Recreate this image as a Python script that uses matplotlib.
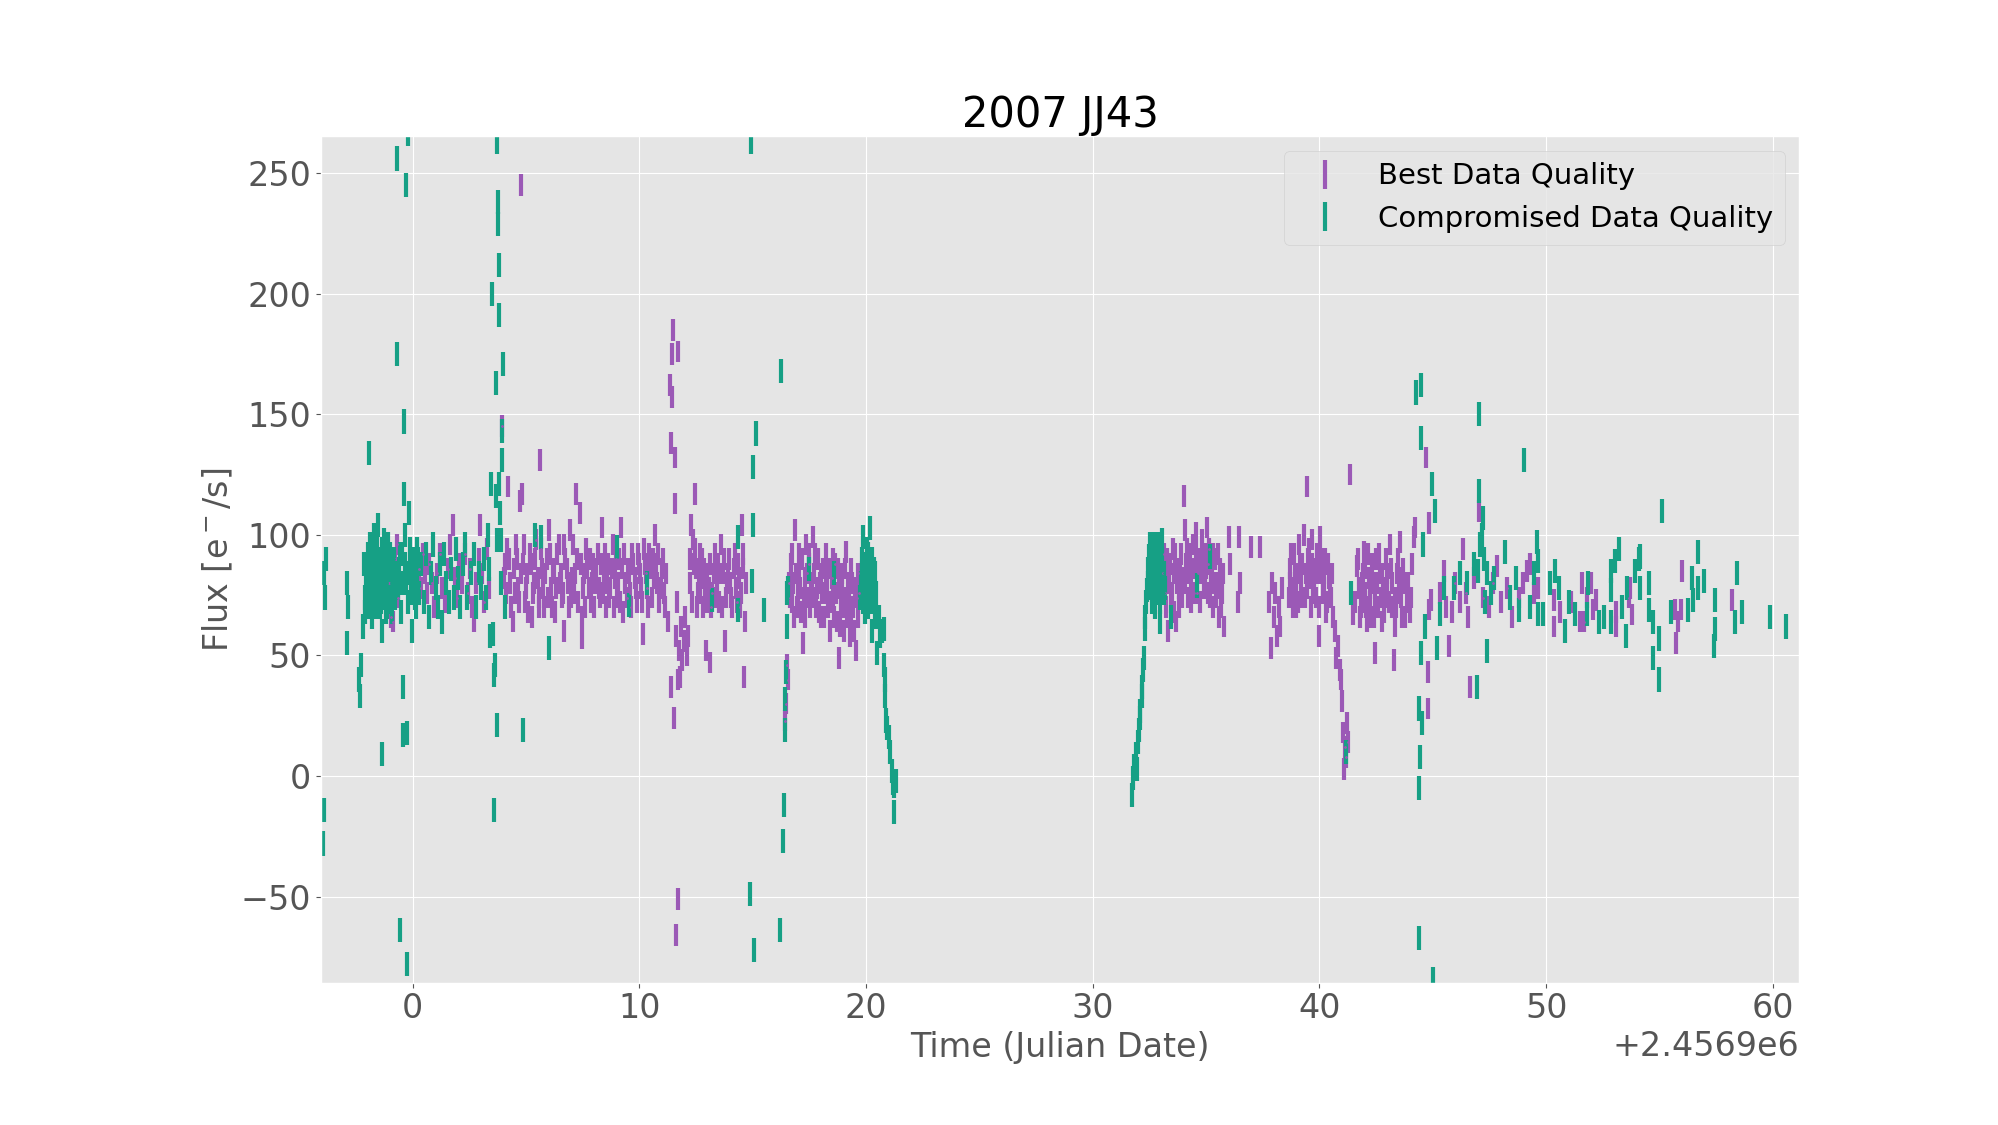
import numpy as np
import matplotlib
matplotlib.use("Agg")
import matplotlib.pyplot as plt

# ---------------- data (time offset in days, flux in e-/s) ----------------
jd_base = 2456900.0

best_seg_a = [(-1.05, 80), (-0.95, 66), (-0.88, 64), (-0.8, 90), (-0.72, 96), (-0.66, 74),
              (0.25, 86), (0.35, 78), (0.45, 92), (0.55, 84), (0.62, 76), (0.72, 88), (0.85, 80),
              (0.95, 70), (1.05, 84), (1.2, 92), (1.3, 78), (1.42, 72), (1.55, 86), (1.65, 96),
              (1.77, 104), (1.85, 82), (1.95, 74), (2.05, 88), (2.15, 80), (2.3, 92), (2.42, 76),
              (2.5, 86), (2.62, 70), (2.72, 64), (2.8, 80), (2.9, 90), (2.97, 104), (3.05, 84),
              (3.15, 72), (3.25, 94), (3.35, 78)]

best_seg_b = [(3.95, 145), (4.0, 82), (4.1, 76), (4.2, 120), (4.25, 90), (4.35, 70), (4.45, 86),
              (4.55, 96), (4.62, 78), (4.72, 114), (4.75, 245), (4.8, 117), (4.85, 88), (4.95, 72),
              (5.05, 84), (5.15, 92), (5.25, 66), (5.35, 80), (5.45, 98), (5.55, 74), (5.62, 131),
              (5.7, 86), (5.8, 70), (5.9, 90), (6.0, 102), (6.08, 78), (6.18, 84), (6.28, 68),
              (6.38, 92), (6.48, 80), (6.58, 74), (6.69, 60), (6.68, 96), (6.78, 86), (6.88, 70),
              (6.93, 102), (7.0, 82), (7.1, 76), (7.19, 117), (7.25, 90), (7.37, 109), (7.46, 57),
              (7.45, 66), (7.55, 84), (7.65, 94), (7.75, 78), (7.85, 72), (7.95, 88), (8.05, 80),
              (8.15, 92), (8.25, 74), (8.34, 103), (8.42, 84), (8.52, 70), (8.62, 88), (8.72, 78),
              (8.82, 96), (8.92, 82), (9.02, 74), (9.1, 90), (9.18, 103), (9.28, 68), (9.38, 80),
              (9.48, 86), (9.58, 76), (9.68, 92), (9.78, 82), (9.88, 72), (9.98, 88), (10.08, 78),
              (10.15, 59), (10.18, 94), (10.28, 84), (10.38, 70), (10.48, 86), (10.58, 90),
              (10.68, 100), (10.78, 80), (10.88, 72), (10.98, 86), (11.08, 76)]

best_seg_b2 = [(4.05, 88), (4.15, 94), (4.3, 80), (4.4, 64), (4.5, 76), (4.58, 90), (4.68, 72),
               (4.78, 84), (4.9, 96), (5.0, 78), (5.1, 68), (5.2, 88), (5.3, 76), (5.4, 90),
               (5.5, 82), (5.58, 70), (5.66, 94), (5.75, 78), (5.85, 84), (5.95, 74), (6.04, 92),
               (6.13, 70), (6.23, 86), (6.33, 78), (6.43, 96), (6.53, 84), (6.63, 76), (6.73, 90),
               (6.83, 80), (6.97, 74), (7.05, 96), (7.15, 84), (7.3, 72), (7.4, 88), (7.5, 78),
               (7.6, 70), (7.7, 86), (7.8, 90), (7.9, 80), (8.0, 70), (8.1, 86), (8.2, 78),
               (8.3, 88), (8.38, 76), (8.47, 92), (8.57, 80), (8.67, 74), (8.77, 86), (8.87, 70),
               (8.97, 90), (9.06, 80), (9.14, 72), (9.23, 86), (9.33, 92), (9.43, 74), (9.53, 84),
               (9.63, 70), (9.73, 88), (9.83, 78), (9.93, 92), (10.03, 84), (10.13, 72),
               (10.23, 88), (10.33, 78), (10.43, 92), (10.53, 74), (10.63, 82), (10.73, 88),
               (10.83, 92), (10.93, 78), (11.03, 90), (11.13, 70), (11.18, 84)]

best_seg_c = [(11.25, 64), (11.34, 162), (11.38, 138), (11.38, 37), (11.43, 175), (11.43, 157),
              (11.47, 185), (11.51, 24), (11.56, 132), (11.56, 113), (11.6, -66), (11.69, 176),
              (11.69, -51), (11.72, 40), (11.78, 41), (11.62, 58), (11.65, 72), (11.75, 52),
              (11.82, 62), (11.88, 48), (11.95, 56), (12.02, 66), (12.08, 50), (12.15, 58),
              (12.22, 90), (12.28, 104), (12.35, 98), (12.44, 117), (12.5, 86), (12.58, 76),
              (12.65, 92), (12.72, 82), (12.8, 70), (12.88, 78), (12.93, 52), (13.0, 84),
              (13.1, 47), (13.12, 88), (13.22, 76), (13.32, 92), (13.42, 80), (13.52, 72),
              (13.6, 96), (13.68, 84), (13.76, 56), (13.85, 80), (13.95, 90), (14.05, 74),
              (14.15, 86), (14.25, 78), (14.35, 88), (14.45, 70), (14.52, 104), (14.58, 92),
              (14.6, 41), (14.65, 64), (14.72, 80)]

best_seg_c2 = [(12.25, 80), (12.32, 72), (12.4, 88), (12.47, 94), (12.54, 70), (12.62, 84),
               (12.68, 76), (12.76, 90), (12.84, 86), (12.96, 72), (13.05, 78), (13.16, 70),
               (13.27, 84), (13.37, 74), (13.47, 88), (13.56, 84), (13.64, 70), (13.72, 90),
               (13.8, 74), (13.9, 84), (14.0, 80), (14.1, 70), (14.2, 92), (14.3, 72),
               (14.4, 82), (14.48, 76), (14.55, 86)]

best_seg_d = [(16.43, 23), (16.46, 30), (16.5, 46), (16.56, 40), (16.6, 80), (16.68, 88),
              (16.75, 72), (16.82, 66), (16.85, 102), (16.9, 84), (16.98, 76), (17.05, 92),
              (17.12, 68), (17.2, 55), (17.28, 82), (17.35, 96), (17.42, 74), (17.5, 88),
              (17.58, 78), (17.65, 99), (17.72, 84), (17.8, 70), (17.88, 90), (17.95, 80),
              (18.02, 66), (18.1, 86), (18.18, 76), (18.25, 92), (18.32, 70), (18.4, 60),
              (18.48, 82), (18.55, 74), (18.62, 88), (18.7, 64), (18.78, 78), (18.81, 49),
              (18.88, 70), (18.95, 84), (19.02, 60), (19.1, 74), (19.13, 93), (19.2, 80),
              (19.28, 58), (19.35, 86), (19.42, 70), (19.5, 78), (19.55, 52), (19.62, 66),
              (19.7, 76)]

best_seg_d2 = [(16.64, 74), (16.72, 92), (16.79, 80), (16.94, 70), (17.02, 84), (17.08, 78),
               (17.16, 90), (17.24, 74), (17.32, 66), (17.38, 84), (17.46, 92), (17.54, 70),
               (17.62, 80), (17.69, 74), (17.76, 92), (17.84, 78), (17.92, 68), (17.99, 84),
               (18.06, 76), (18.14, 66), (18.22, 84), (18.29, 78), (18.36, 86), (18.44, 72),
               (18.52, 90), (18.59, 66), (18.66, 76), (18.74, 86), (18.84, 62), (18.92, 78),
               (18.99, 70), (19.06, 86), (19.16, 66), (19.24, 72), (19.32, 64), (19.39, 80),
               (19.46, 60), (19.58, 74), (19.66, 84)]

best_seg_e = [(33.1, 84), (33.18, 76), (33.26, 90), (33.31, 60), (33.38, 80), (33.45, 72),
              (33.52, 94), (33.6, 84), (33.68, 64), (33.75, 86), (33.82, 78), (33.9, 92),
              (33.96, 82), (34.01, 116), (34.05, 102), (34.12, 88), (34.2, 74), (34.28, 92),
              (34.35, 80), (34.42, 96), (34.5, 86), (34.53, 101), (34.6, 76), (34.68, 90),
              (34.75, 84), (34.82, 98), (34.9, 78), (34.97, 92), (35.04, 103), (35.1, 88),
              (35.18, 74), (35.25, 84), (35.32, 70), (35.4, 90), (35.48, 80), (35.55, 66),
              (35.62, 86), (35.7, 76), (35.78, 62), (36.0, 99), (36.05, 88), (36.4, 72),
              (36.44, 99), (36.48, 80), (37.0, 95), (37.37, 95)]

best_seg_e2 = [(33.14, 92), (33.22, 70), (33.3, 86), (33.42, 88), (33.49, 76), (33.56, 68),
               (33.64, 92), (33.72, 80), (33.79, 70), (33.86, 86), (33.93, 74), (34.08, 80),
               (34.16, 94), (34.24, 84), (34.32, 72), (34.39, 86), (34.46, 76), (34.57, 92),
               (34.64, 84), (34.72, 72), (34.79, 90), (34.86, 86), (34.93, 80), (35.0, 86),
               (35.07, 76), (35.14, 94), (35.22, 80), (35.29, 92), (35.36, 80), (35.44, 74),
               (35.51, 92), (35.58, 78), (35.66, 70), (35.74, 84)]

best_seg_f = [(37.78, 72), (37.84, 53), (37.9, 80), (37.98, 66), (38.05, 76), (38.12, 58),
              (38.2, 70), (38.28, 62), (38.35, 78), (38.65, 74), (38.72, 86), (38.8, 78),
              (38.88, 92), (38.95, 70), (39.02, 84), (39.1, 96), (39.18, 80), (39.25, 88),
              (39.3, 100), (39.35, 74), (39.44, 120), (39.5, 90), (39.58, 82), (39.65, 98),
              (39.72, 76), (39.8, 86), (39.88, 92), (39.97, 58), (40.04, 99), (40.1, 84),
              (40.18, 78), (40.25, 90), (40.32, 72), (40.4, 82), (40.5, 74), (40.6, 66),
              (40.68, 60), (40.75, 49), (40.82, 54), (40.9, 44), (40.96, 40), (41.0, 31),
              (41.05, 18), (41.07, 3), (41.12, 12), (41.18, 8), (41.22, 22), (41.27, 14),
              (41.35, 125), (41.46, 67), (41.55, 72), (41.66, 87)]

best_seg_f2 = [(38.68, 80), (38.76, 92), (38.84, 70), (38.92, 84), (38.98, 78), (39.06, 72),
               (39.14, 88), (39.21, 74), (39.39, 84), (39.47, 78), (39.54, 94), (39.62, 70),
               (39.69, 88), (39.76, 80), (39.84, 74), (39.92, 84), (40.0, 70), (40.07, 90),
               (40.14, 76), (40.21, 84), (40.28, 68), (40.36, 88), (40.45, 78), (40.55, 84)]

best_seg_g = [(41.75, 78), (41.82, 70), (41.9, 84), (41.96, 93), (42.02, 76), (42.1, 64),
              (42.18, 82), (42.25, 72), (42.32, 88), (42.4, 66), (42.47, 51), (42.55, 80),
              (42.62, 92), (42.7, 74), (42.78, 84), (42.85, 68), (42.92, 90), (43.0, 78),
              (43.1, 96), (43.18, 70), (43.28, 48), (43.35, 62), (43.42, 84), (43.5, 76),
              (43.57, 97), (43.65, 66), (43.72, 80), (43.85, 72), (44.0, 68), (44.1, 88),
              (44.16, 99), (44.2, 103), (44.69, 132), (44.78, 43), (44.8, 28), (44.84, 105),
              (44.85, 69), (44.9, 73)]

best_seg_g2 = [(41.72, 90), (41.79, 66), (41.86, 80), (41.93, 72), (41.99, 86), (42.06, 70),
               (42.14, 92), (42.21, 78), (42.29, 66), (42.36, 80), (42.44, 74), (42.51, 90),
               (42.58, 70), (42.66, 84), (42.74, 64), (42.81, 78), (42.89, 74), (42.96, 84),
               (43.05, 72), (43.14, 86), (43.22, 80), (43.31, 74), (43.39, 70), (43.46, 90),
               (43.54, 82), (43.61, 74), (43.68, 86), (43.78, 66), (43.92, 80), (44.05, 74)]

best_seg_h = [(45.3, 76), (45.49, 85), (45.6, 70), (45.7, 54), (45.85, 68), (46.0, 80),
              (46.2, 72), (46.34, 94), (46.45, 76), (46.55, 66), (46.66, 37), (46.8, 82),
              (47.04, 110), (47.2, 74), (47.5, 70), (47.65, 80), (47.84, 87), (48.0, 72),
              (48.28, 78), (48.5, 66), (48.8, 74), (49.0, 80), (49.16, 85), (49.3, 88),
              (49.45, 76), (49.65, 78), (50.34, 73), (50.36, 62), (50.6, 68), (51.1, 72),
              (51.5, 64)]

best_seg_i = [(51.59, 80), (51.65, 64), (51.8, 74), (51.96, 80), (52.05, 69), (52.18, 73),
              (53.06, 62), (53.1, 68), (53.65, 74), (53.72, 78), (53.78, 67), (55.7, 69),
              (55.72, 55), (55.8, 64), (55.93, 69), (56.0, 85), (58.21, 73)]

comp_seg_a = [(-3.95, -28), (-3.93, -14), (-3.9, 84), (-3.86, 74), (-3.82, 90), (-2.92, 80),
              (-2.88, 70), (-2.9, 55), (-2.36, 40), (-2.33, 33), (-2.3, 46)]

comp_seg_b = [(-2.18, 62), (-2.12, 74), (-2.06, 84), (-2.0, 92), (-1.95, 70), (-1.92, 134),
              (-1.88, 96), (-1.84, 80), (-1.8, 66), (-1.76, 88), (-1.72, 100), (-1.68, 76),
              (-1.64, 92), (-1.6, 70), (-1.56, 84), (-1.52, 104), (-1.48, 78), (-1.44, 90),
              (-1.4, 72), (-1.36, 60), (-1.35, 9), (-1.32, 86), (-1.28, 98), (-1.24, 76),
              (-1.2, 68), (-1.16, 92), (-1.12, 80), (-1.08, 96), (-1.02, 84), (-0.98, 72),
              (-0.92, 88), (-0.86, 78), (-0.8, 74), (-0.75, 82), (-0.7, 256), (-0.7, 175),
              (-0.62, 86), (-0.55, -64), (-0.52, 68), (-0.47, 92), (-0.44, 37), (-0.42, 17),
              (-0.39, 147), (-0.37, 117), (-0.35, 100), (-0.3, 245), (-0.28, 80), (-0.26, 18),
              (-0.26, -78), (-0.22, 266), (-0.2, 72), (-0.15, 109), (-0.12, 94), (-0.08, 84),
              (-0.04, 60), (0.0, 76), (0.05, 90), (0.1, 82), (0.15, 70), (0.2, 94), (0.28, 76)]

comp_seg_b2 = [(-2.15, 88), (-2.09, 68), (-2.03, 76), (-1.98, 84), (-1.9, 72), (-1.86, 88),
               (-1.82, 92), (-1.78, 76), (-1.74, 70), (-1.7, 84), (-1.66, 96), (-1.62, 82),
               (-1.58, 94), (-1.54, 74), (-1.5, 88), (-1.46, 70), (-1.42, 82), (-1.38, 94),
               (-1.3, 74), (-1.26, 84), (-1.22, 92), (-1.18, 78), (-1.14, 70), (-1.1, 86),
               (-1.05, 76), (-1.0, 92), (-0.95, 80), (-0.9, 68), (-0.84, 90), (-0.78, 84),
               (-0.66, 78), (-0.58, 92), (-0.5, 80), (-0.33, 88), (-0.18, 84), (-0.1, 76),
               (-0.02, 88), (0.08, 74), (0.18, 84), (0.24, 90)]

comp_seg_c = [(0.38, 88), (0.5, 72), (0.6, 92), (0.7, 66), (0.8, 84), (0.9, 96), (1.0, 78),
              (1.1, 70), (1.18, 88), (1.28, 64), (1.38, 92), (1.48, 80), (1.58, 72), (1.7, 86),
              (1.8, 74), (1.92, 94), (2.0, 82), (2.1, 70), (2.2, 88), (2.32, 96), (2.4, 74),
              (2.55, 84), (2.68, 92), (2.8, 70), (2.92, 84), (3.02, 78), (3.12, 90), (3.22, 74),
              (3.3, 100), (3.38, 86)]

comp_seg_d = [(3.44, 121), (3.49, 200), (3.4, 58), (3.55, 59), (3.58, -14), (3.6, 42),
              (3.62, 46), (3.65, 116), (3.7, 263), (3.7, 21), (3.72, 98), (3.74, 238),
              (3.75, 229), (3.78, 191), (3.8, 212), (3.82, 121), (3.85, 109), (3.88, 98),
              (3.92, 143), (3.95, 131), (3.97, 171), (3.66, 163), (3.9, 80), (4.05, 70),
              (4.88, 19), (5.41, 100), (5.65, 99), (6.0, 53), (9.0, 95), (9.53, 71), (10.31, 80),
              (13.21, 73)]

comp_seg_e = [(14.34, 99), (14.34, 69), (14.87, -49), (14.94, 263), (14.96, 81), (15.0, 128),
              (15.0, 104), (15.05, -72), (15.13, 142), (15.49, 69), (16.19, -64), (16.24, 168),
              (16.32, -27), (16.37, -12), (16.41, 32), (16.44, 19), (16.48, 43), (16.5, 76),
              (16.52, 62), (16.55, 78), (17.5, 86), (18.6, 84)]

comp_seg_f = [(19.75, 74), (19.8, 84), (19.86, 99), (19.9, 78), (19.95, 68), (20.0, 88),
              (20.05, 76), (20.1, 92), (20.16, 103), (20.18, 90), (20.22, 72), (20.25, 60),
              (20.3, 80), (20.34, 86), (20.4, 70), (20.45, 76), (20.49, 51), (20.55, 66),
              (20.62, 58), (20.7, 60), (20.78, 61), (20.8, 46), (20.82, 40), (20.85, 33),
              (20.87, 23), (20.92, 20), (21.0, 16), (21.05, 10), (21.12, 2), (21.18, -3),
              (21.22, -15), (21.25, -4), (21.3, -2)]

comp_seg_f2 = [(19.78, 80), (19.83, 90), (19.88, 72), (19.93, 84), (19.98, 78), (20.03, 94),
               (20.08, 70), (20.13, 84), (20.2, 80), (20.27, 90), (20.32, 74), (20.38, 84),
               (20.43, 66)]

comp_seg_g = [(31.74, -8), (31.78, -1), (31.82, 4), (31.9, 9), (31.93, 3), (32.0, 14),
              (32.03, 19), (32.07, 24), (32.1, 27), (32.15, 33), (32.18, 37), (32.22, 44),
              (32.24, 49), (32.29, 61), (32.3, 66), (32.35, 72), (32.37, 77), (32.42, 86),
              (32.47, 91), (32.5, 84), (32.55, 78), (32.6, 94), (32.65, 88), (32.69, 96),
              (32.72, 80), (32.76, 70), (32.8, 86), (32.85, 92), (32.9, 76), (32.95, 64),
              (33.0, 88), (33.03, 98), (33.08, 82), (33.15, 76), (33.47, 66), (34.6, 79),
              (35.19, 91), (41.15, 10), (41.37, 76)]

comp_seg_g2 = [(32.45, 80), (32.52, 96), (32.58, 86), (32.62, 72), (32.67, 80), (32.74, 90),
               (32.78, 76), (32.83, 84), (32.88, 96), (32.93, 80), (32.98, 72), (33.05, 90),
               (33.12, 84), (33.2, 78)]

comp_seg_h = [(44.28, 159), (44.38, 28), (44.38, -5), (44.38, -67), (44.43, 8), (44.46, 51),
              (44.47, 162), (44.5, 140), (44.52, 22), (44.57, 96), (44.65, 62), (44.96, 121),
              (45.0, -84), (45.09, 110), (45.19, 53), (45.3, 67), (45.5, 78), (45.93, 78),
              (46.2, 84), (46.5, 80), (46.8, 88), (46.93, 37), (47.0, 85), (47.03, 150),
              (47.05, 118), (47.1, 96), (47.17, 100), (47.2, 107), (47.25, 90), (47.3, 72),
              (47.37, 52), (47.4, 84), (47.55, 76), (47.7, 82), (48.18, 93), (48.4, 74),
              (48.65, 82), (48.8, 69), (49.04, 131), (49.3, 70), (49.45, 84), (49.59, 97),
              (49.62, 89), (49.65, 67), (49.85, 67), (50.16, 80), (50.37, 85), (50.55, 78),
              (50.85, 60), (51.0, 72), (51.29, 67)]

comp_seg_i = [(51.81, 67), (51.85, 80), (52.32, 64), (52.54, 66), (52.84, 64), (52.86, 77),
              (52.87, 85), (53.03, 89), (53.22, 94), (53.35, 70), (53.51, 58), (53.55, 78),
              (53.94, 85), (54.09, 90), (54.12, 91), (54.14, 78), (54.53, 80), (54.55, 69),
              (54.71, 64), (54.73, 49), (54.96, 40), (55.0, 57), (55.1, 110), (55.49, 68),
              (56.25, 69), (56.44, 82), (56.48, 73), (56.69, 93), (56.72, 78), (56.96, 81),
              (57.4, 54), (57.43, 61), (57.47, 73), (58.32, 64), (58.43, 84), (58.65, 68),
              (59.87, 66), (60.57, 62)]

best_flux_err = 4.5
comp_flux_err = 5.0

y_ticks = [-50, 0, 50, 100, 150, 200, 250]

# ---------------- assemble ----------------
best = np.array(best_seg_a + best_seg_b + best_seg_b2 + best_seg_c + best_seg_c2 +
                best_seg_d + best_seg_d2 + best_seg_e + best_seg_e2 + best_seg_f +
                best_seg_f2 + best_seg_g + best_seg_g2 + best_seg_h + best_seg_i, dtype=float)
comp = np.array(comp_seg_a + comp_seg_b + comp_seg_b2 + comp_seg_c +
                comp_seg_d + comp_seg_e + comp_seg_f + comp_seg_f2 + comp_seg_g +
                comp_seg_g2 + comp_seg_h + comp_seg_i, dtype=float)
best_time = jd_base + best[:, 0]
best_flux = best[:, 1]
comp_time = jd_base + comp[:, 0]
comp_flux = comp[:, 1]

# ---------------- plot ----------------
plt.style.use("ggplot")
fig = plt.figure(figsize=(19.99, 11.25), dpi=100)
ax = fig.add_axes([0.1606, 0.1265, 0.7394, 0.7525])

purple = "#9b59b6"
green = "#16a085"

ax.errorbar(best_time, best_flux, yerr=best_flux_err, fmt=".", color=purple,
            ecolor=purple, elinewidth=3, markersize=2, label="Best Data Quality")
ax.errorbar(comp_time, comp_flux, yerr=comp_flux_err, fmt=".", color=green,
            ecolor=green, elinewidth=3, markersize=2, label="Compromised Data Quality")

ax.set_xlim(jd_base - 4.05, jd_base + 61.16)
ax.set_ylim(-85.7, 265.3)
ax.set_yticks(y_ticks)

ax.tick_params(axis="both", labelsize=24)
ax.xaxis.get_offset_text().set_fontsize(24)
ax.set_xlabel("Time (Julian Date)", fontsize=24)
ax.set_ylabel("Flux [e$^-$/s]", fontsize=24)
ax.set_title("2007 JJ43", fontsize=30, color="black")

leg = ax.legend(loc="upper right", fontsize=21)
for t in leg.get_texts():
    t.set_color("black")

fig.savefig("out.png", dpi=100)
